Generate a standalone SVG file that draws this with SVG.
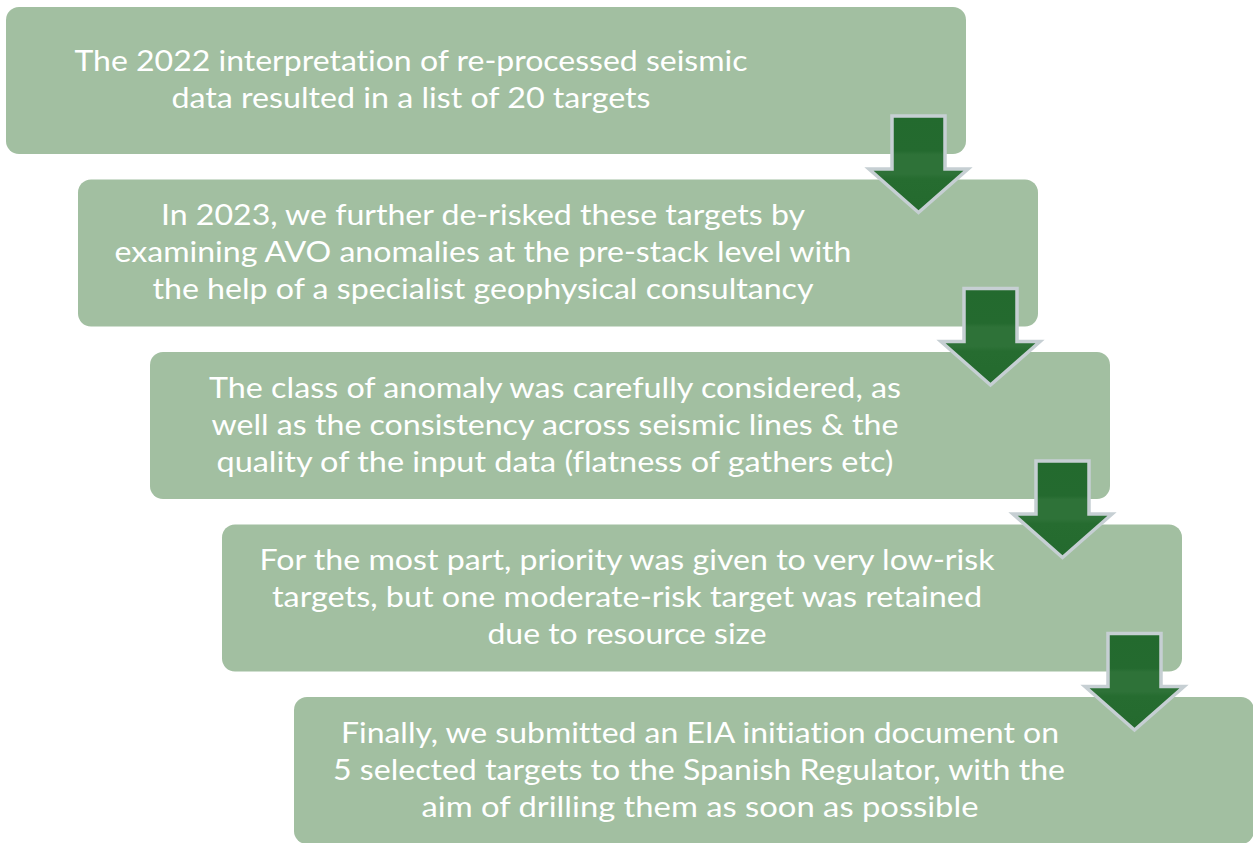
<svg xmlns="http://www.w3.org/2000/svg" xmlns:xlink="http://www.w3.org/1999/xlink" width="1253" height="843" viewBox="0 0 1253 843">
  <style>
    .box { fill: #a2bfa1; }
    .lbl { font-family: Lato, "Open Sans", "Liberation Sans", sans-serif; font-size: 28px; fill: #ffffff; text-anchor: middle; font-variant-ligatures: none; font-feature-settings: "liga" 0, "dlig" 0; }
    .arr { fill: url(#arrGrad); stroke: #c6cfd3; stroke-width: 3.5; stroke-linejoin: miter; stroke-miterlimit: 10; }
  </style>
  <defs>
    <linearGradient id="arrGrad" x1="0" y1="0" x2="0" y2="1">
      <stop offset="0" stop-color="#236a2e"/>
      <stop offset="0.36" stop-color="#246a2f"/>
      <stop offset="0.40" stop-color="#2e7238"/>
      <stop offset="0.60" stop-color="#2e7238"/>
      <stop offset="0.65" stop-color="#266c30"/>
      <stop offset="1" stop-color="#246a2e"/>
    </linearGradient>
    <path id="arrow" class="arr" d="M892,116 H945 V169 H968 L918.5,212.5 L869,169 H892 Z"/>
  </defs>
  <rect width="1253" height="843" fill="#ffffff"/>

  <g id="node1">
    <rect class="box" x="6" y="7" width="960" height="147" rx="13"/>
    <text class="lbl" x="411" y="71" textLength="673" lengthAdjust="spacingAndGlyphs">The 2022 interpretation of re-processed seismic</text>
    <text class="lbl" x="411" y="108" textLength="479" lengthAdjust="spacingAndGlyphs">data resulted in a list of 20 targets</text>
  </g>
  <g id="node2">
    <rect class="box" x="78" y="179.5" width="960" height="147" rx="13"/>
    <text class="lbl" x="483" y="225" textLength="644" lengthAdjust="spacingAndGlyphs">In 2023, we further de-risked these targets by</text>
    <text class="lbl" x="483" y="262" textLength="737" lengthAdjust="spacingAndGlyphs">examining AVO anomalies at the pre-stack level with</text>
    <text class="lbl" x="483" y="299" textLength="661" lengthAdjust="spacingAndGlyphs">the help of a specialist geophysical consultancy</text>
  </g>
  <g id="node3">
    <rect class="box" x="150" y="352" width="960" height="147" rx="13"/>
    <text class="lbl" x="555" y="397.5" textLength="692" lengthAdjust="spacingAndGlyphs">The class of anomaly was carefully considered, as</text>
    <text class="lbl" x="555" y="434.5" textLength="687" lengthAdjust="spacingAndGlyphs">well as the consistency across seismic lines &amp; the</text>
    <text class="lbl" x="555" y="471.5" textLength="677" lengthAdjust="spacingAndGlyphs">quality of the input data (flatness of gathers etc)</text>
  </g>
  <g id="node4">
    <rect class="box" x="222" y="524.5" width="960" height="147" rx="13"/>
    <text class="lbl" x="627" y="570" textLength="735" lengthAdjust="spacingAndGlyphs">For the most part, priority was given to very low-risk</text>
    <text class="lbl" x="627" y="607" textLength="710" lengthAdjust="spacingAndGlyphs">targets, but one moderate-risk target was retained</text>
    <text class="lbl" x="627" y="644" textLength="279" lengthAdjust="spacingAndGlyphs">due to resource size</text>
  </g>
  <g id="node5">
    <rect class="box" x="294" y="697" width="960" height="147" rx="13"/>
    <text class="lbl" x="700" y="742.5" textLength="718" lengthAdjust="spacingAndGlyphs">Finally, we submitted an EIA initiation document on</text>
    <text class="lbl" x="699" y="779.5" textLength="732" lengthAdjust="spacingAndGlyphs">5 selected targets to the Spanish Regulator, with the</text>
    <text class="lbl" x="700" y="816.5" textLength="557" lengthAdjust="spacingAndGlyphs">aim of drilling them as soon as possible</text>
  </g>

  <g id="connectors">
    <use xlink:href="#arrow" href="#arrow"/>
    <use xlink:href="#arrow" href="#arrow" transform="translate(72,172.5)"/>
    <use xlink:href="#arrow" href="#arrow" transform="translate(144,345)"/>
    <use xlink:href="#arrow" href="#arrow" transform="translate(216,517.5)"/>
  </g>
</svg>
